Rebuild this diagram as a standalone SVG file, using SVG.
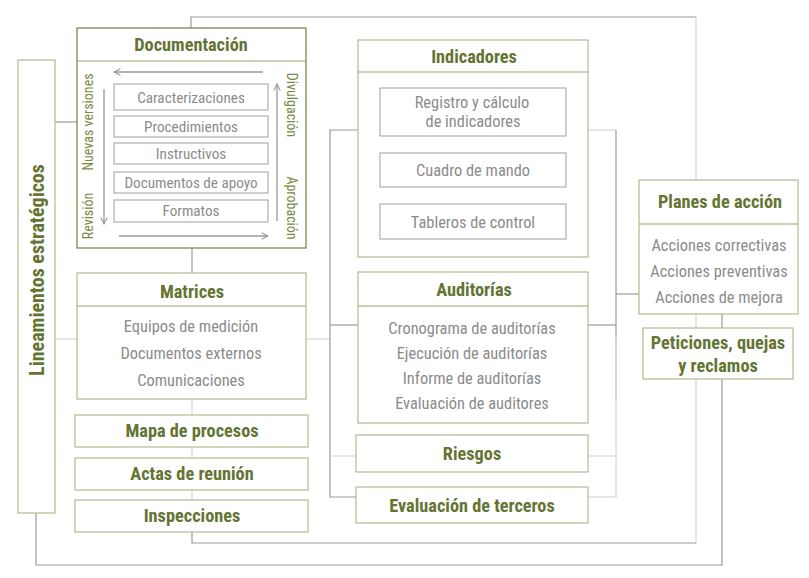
<svg xmlns="http://www.w3.org/2000/svg" width="809" height="578" viewBox="0 0 809 578">
<style>
text{font-family:"Roboto Condensed","Liberation Sans Narrow","DejaVu Sans Condensed",Roboto,sans-serif;text-anchor:middle}
.t{font-weight:bold;fill:#637433;font-size:18.3px}
.i{fill:#8c8c8c;font-size:16.4px}
.d{fill:#8c8c8c;font-size:15.2px}
.l{fill:#7a8a45;font-size:14px}
.box{fill:#fff;stroke:#b2b98f;stroke-width:1.2}
.dbox{fill:#fff;stroke:#7b8a48;stroke-width:1.3}
.ibox{fill:#fff;stroke:#a8a8a8;stroke-width:1.1}
.div{stroke:#9aa66a;stroke-width:1.1}
.c{fill:none;stroke:#9b9b9b;stroke-width:1.2}
.cl{fill:none;stroke:#dedede;stroke-width:1.5}
.ar{fill:none;stroke:#999;stroke-width:1.3}
</style>
<defs>
<marker id="ah" viewBox="0 0 10 10" refX="9" refY="5" markerWidth="8" markerHeight="8" orient="auto" markerUnits="userSpaceOnUse">
<path d="M1,1 L9,5 L1,9" fill="none" stroke="#999" stroke-width="1.3"/>
</marker>
</defs>
<g id="connectors">
<path class="c" d="M191,28 V17 H696"/>
<path class="cl" d="M696,17 V543"/>
<path class="c" d="M192,532 V543 H696"/>
<path class="c" d="M55,122 H77"/>
<path class="cl" d="M55,339 H77"/>
<path class="c" d="M36,513 V565 H722 V379"/>
<path class="c" d="M722,314 V328"/>
<path class="c" d="M192,248 V273"/>
<path class="cl" d="M192,399 V500"/>
<path class="cl" d="M307,339 H330"/>
<path class="c" d="M358,130 H330 V497 H357"/>
<path class="c" d="M330,325 H358"/>
<path class="cl" d="M330,456 H357"/>
<path class="cl" d="M588,130 H616"/>
<path class="c" d="M616,130 V400"/>
<path class="cl" d="M616,337 V497 H588"/>
<path class="c" d="M588,325 H616"/>
<path class="cl" d="M588,456 H616"/>
<path class="c" d="M616,294 H639"/>
</g>
<g id="lineamientos">
<rect class="box" x="18" y="60" width="37" height="453"/>
<text class="t" transform="translate(44,270) rotate(-90)" style="font-size:20px">Lineamientos estratégicos</text>
</g>
<g id="documentacion">
<rect class="dbox" x="77" y="28" width="229" height="220"/>
<line class="div" x1="77" y1="61" x2="306" y2="61"/>
<text class="t" x="191" y="51">Documentación</text>
<rect class="ibox" x="114" y="84" width="154" height="26" stroke="#cfcfcf"/>
<text class="d" x="191" y="103">Caracterizaciones</text>
<rect class="ibox" x="114" y="116" width="154" height="21"/>
<text class="d" x="191" y="132">Procedimientos</text>
<rect class="ibox" x="114" y="143" width="154" height="21"/>
<text class="d" x="191" y="159">Instructivos</text>
<rect class="ibox" x="114" y="172" width="154" height="21"/>
<text class="d" x="191" y="188">Documentos de apoyo</text>
<rect class="ibox" x="114" y="200" width="154" height="22" stroke="#cfcfcf"/>
<text class="d" x="191" y="216">Formatos</text>
<line class="ar" x1="263" y1="72" x2="114" y2="72" marker-end="url(#ah)"/>
<line class="ar" x1="119" y1="236" x2="268" y2="236" marker-end="url(#ah)"/>
<line class="ar" x1="104" y1="89" x2="104" y2="224" marker-end="url(#ah)"/>
<line class="ar" x1="277" y1="221" x2="277" y2="84" marker-end="url(#ah)"/>
<text class="l" transform="translate(93,122) rotate(-90)">Nuevas versiones</text>
<text class="l" transform="translate(93,216) rotate(-90)">Revisión</text>
<text class="l" transform="translate(287,105) rotate(90)">Divulgación</text>
<text class="l" transform="translate(287,208) rotate(90)">Aprobación</text>
</g>
<g id="matrices">
<rect class="box" x="77" y="273" width="229" height="126"/>
<line class="div" x1="77" y1="306" x2="306" y2="306"/>
<text class="t" x="192" y="298">Matrices</text>
<text class="i" x="191" y="332">Equipos de medición</text>
<text class="i" x="191" y="359">Documentos externos</text>
<text class="i" x="191" y="386">Comunicaciones</text>
</g>
<g id="mapa">
<rect class="box" x="75" y="415" width="233" height="32"/>
<text class="t" x="192" y="437">Mapa de procesos</text>
</g>
<g id="actas">
<rect class="box" x="75" y="458" width="233" height="32"/>
<text class="t" x="192" y="480">Actas de reunión</text>
</g>
<g id="inspecciones">
<rect class="box" x="75" y="500" width="233" height="32"/>
<text class="t" x="192" y="522">Inspecciones</text>
</g>
<g id="indicadores">
<rect class="box" x="358" y="40" width="230" height="217"/>
<line class="div" x1="358" y1="72" x2="588" y2="72"/>
<text class="t" x="474" y="63">Indicadores</text>
<rect class="ibox" x="380" y="88" width="186" height="48"/>
<text class="i" x="472" y="108">Registro y cálculo</text>
<text class="i" x="473" y="127">de indicadores</text>
<rect class="ibox" x="380" y="153" width="186" height="34"/>
<text class="i" x="473" y="176">Cuadro de mando</text>
<rect class="ibox" x="380" y="204" width="186" height="35"/>
<text class="i" x="473" y="228">Tableros de control</text>
</g>
<g id="auditorias">
<rect class="box" x="358" y="272" width="230" height="151"/>
<line class="div" x1="358" y1="306" x2="588" y2="306"/>
<text class="t" x="474" y="296">Auditorías</text>
<text class="i" x="472" y="334">Cronograma de auditorías</text>
<text class="i" x="472" y="359">Ejecución de auditorías</text>
<text class="i" x="472" y="384">Informe de auditorías</text>
<text class="i" x="472" y="409">Evaluación de auditores</text>
</g>
<g id="riesgos">
<rect class="box" x="356" y="435" width="232" height="37"/>
<text class="t" x="472" y="460">Riesgos</text>
</g>
<g id="terceros">
<rect class="box" x="356" y="487" width="232" height="36"/>
<text class="t" x="472" y="512">Evaluación de terceros</text>
</g>
<g id="planes">
<rect class="box" x="639" y="180" width="159" height="134"/>
<line class="div" x1="639" y1="224" x2="798" y2="224"/>
<text class="t" x="720" y="208">Planes de acción</text>
<text class="i" x="719" y="251">Acciones correctivas</text>
<text class="i" x="719" y="277">Acciones preventivas</text>
<text class="i" x="719" y="303">Acciones de mejora</text>
</g>
<g id="peticiones">
<rect class="box" x="643" y="328" width="150" height="51"/>
<text class="t" x="718" y="349">Peticiones, quejas</text>
<text class="t" x="718" y="372">y reclamos</text>
</g>
</svg>
